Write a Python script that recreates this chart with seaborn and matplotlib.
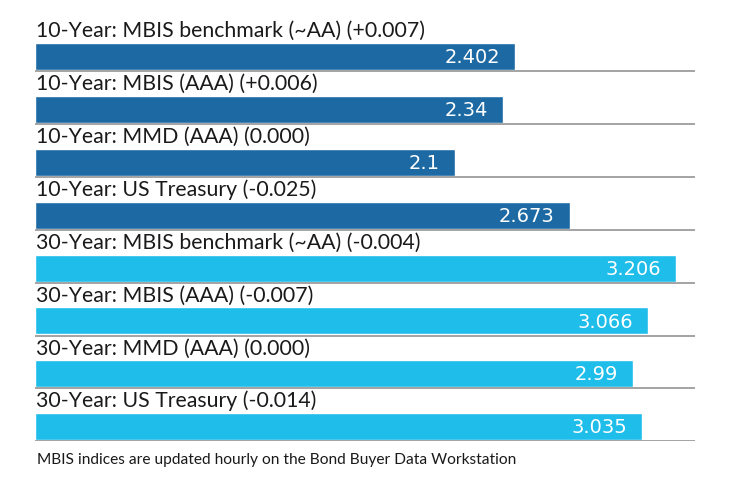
import matplotlib
matplotlib.use("Agg")
import matplotlib.pyplot as plt
import seaborn as sns
import pandas as pd

labels = [
    "10-Year: MBIS benchmark (~AA) (+0.007)",
    "10-Year: MBIS (AAA) (+0.006)",
    "10-Year: MMD (AAA) (0.000)",
    "10-Year: US Treasury (-0.025)",
    "30-Year: MBIS benchmark (~AA) (-0.004)",
    "30-Year: MBIS (AAA) (-0.007)",
    "30-Year: MMD (AAA) (0.000)",
    "30-Year: US Treasury (-0.014)",
]
values = [2.402, 2.34, 2.1, 2.673, 3.206, 3.066, 2.99, 3.035]
value_text = ["2.402", "2.34", "2.1", "2.673", "3.206", "3.066", "2.99", "3.035"]
groups = ["10-Year"] * 4 + ["30-Year"] * 4
footnote = "MBIS indices are updated hourly on the Bond Buyer Data Workstation"

df = pd.DataFrame({"label": labels, "value": values, "group": groups})

sns.set_theme(style="white")
plt.rcParams["font.family"] = ["Lato", "DejaVu Sans"]

W, H = 740, 490
fig = plt.figure(figsize=(W / 100, H / 100), dpi=100)
ax = fig.add_axes([35 / W, (H - 441) / H, (695 - 35) / W, (441 - 18) / H])

sns.barplot(data=df, y="label", x="value", hue="group", orient="h",
            palette={"10-Year": "#1c69a3", "30-Year": "#1ebdea"},
            dodge=False, width=0.51, legend=False, ax=ax, saturation=1)

ax.set_xlim(0, 3.3)
ax.set_ylim(7.27, -0.73)
ax.axis("off")

for i, (lab, v, t) in enumerate(zip(labels, values, value_text)):
    ax.text(0.005, i - 0.29, lab, ha="left", va="bottom", fontsize=15.3,
            color="#1a1a1a")
    ax.text(v - 0.075, i + 0.02, t, ha="right", va="center", fontsize=14,
            color="white", family="DejaVu Sans")
    ax.plot([0, 3.3], [i + 0.275, i + 0.275], color="#8a8a8a", lw=1.1,
            solid_capstyle="butt")

fig.text(37 / W, 1 - 460 / H, footnote, ha="left", va="center", fontsize=11.2,
         color="#1a1a1a")

fig.savefig("out.png", dpi=100)
